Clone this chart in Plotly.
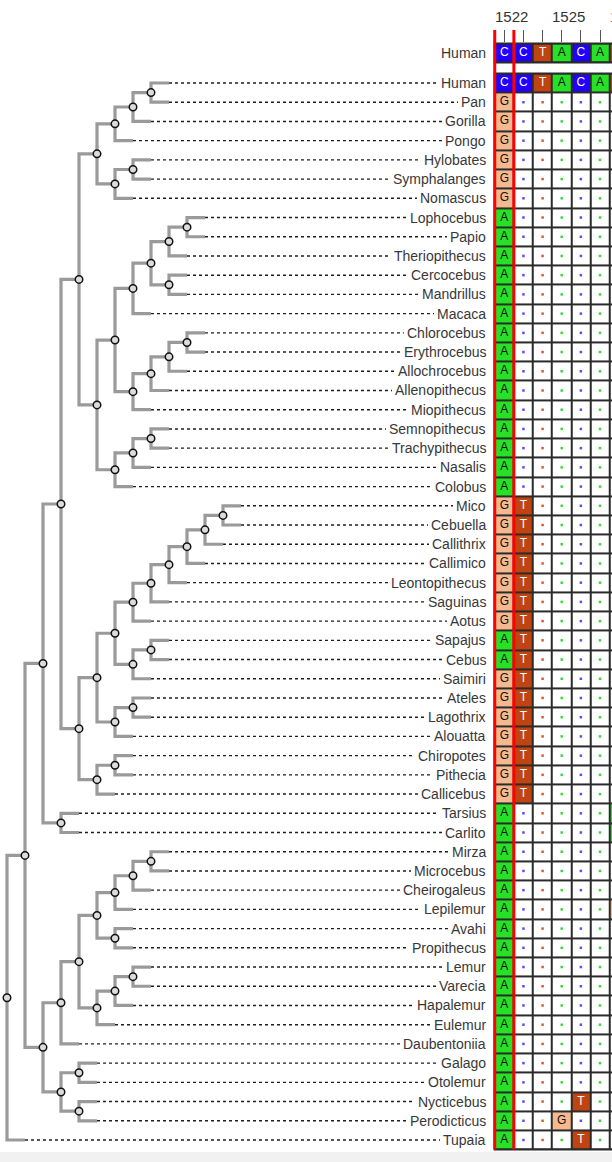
import plotly.graph_objects as go

# cladogram of the primates (plus Tupaia as outgroup), newick, top to bottom
hominoidea = "((((Human,Pan),Gorilla),Pongo),((Hylobates,Symphalanges),Nomascus))"
papionini = "((((Lophocebus,Papio),Theriopithecus),(Cercocebus,Mandrillus)),Macaca)"
cercopithecini = "((((Chlorocebus,Erythrocebus),Allochrocebus),Allenopithecus),Miopithecus)"
colobinae = "(((Semnopithecus,Trachypithecus),Nasalis),Colobus)"
callitrichidae = "((((((Mico,Cebuella),Callithrix),Callimico),Leontopithecus),Saguinas),Aotus)"
cebidae = "((Sapajus,Cebus),Saimiri)"
atelidae = "((Ateles,Lagothrix),Alouatta)"
pitheciidae = "((Chiropotes,Pithecia),Callicebus)"
tarsiidae = "(Tarsius,Carlito)"
lemuriformes = ("((((((Mirza,Microcebus),Cheirogaleus),Lepilemur),(Avahi,Propithecus)),"
                "(((Lemur,Varecia),Hapalemur),Eulemur)),Daubentoniia)")
lorisiformes = "((Galago,Otolemur),(Nycticebus,Perodicticus))"

catarrhini = f"({hominoidea},(({papionini},{cercopithecini}),{colobinae}))"
platyrrhini = f"((({callitrichidae},{cebidae}),{atelidae}),{pitheciidae})"
haplorrhini = f"(({catarrhini},{platyrrhini}),{tarsiidae})"
strepsirrhini = f"({lemuriformes},{lorisiformes})"
newick = f"(({haplorrhini},{strepsirrhini}),Tupaia)"

# alignment columns, human reference and per-species rows ('.' = same as human)
columns = [1522, 1523, 1524, 1525, 1526, 1527, 1528]
label_cols = [1522, 1525, 1528]
reference_name = "Human"
reference = "CCTACAT"
sequences = (
    ["CCTACAT"]
    + ["G......"] * 6      # Pan .. Nomascus
    + ["A......"] * 15     # Lophocebus .. Colobus
    + ["GT....."] * 7      # Mico .. Aotus
    + ["AT....."] * 2      # Sapajus, Cebus
    + ["GT....."] * 7      # Saimiri .. Callicebus
    + ["A.....A"] * 2      # Tarsius, Carlito
    + ["A......"] * 3      # Mirza, Microcebus, Cheirogaleus
    + ["A.....G"]          # Lepilemur
    + ["A......"] * 9      # Avahi .. Otolemur
    + ["A...T.."]          # Nycticebus
    + ["A..G..."]          # Perodicticus
    + ["A...T.."]          # Tupaia
)

base_fill = {"A": "#27e127", "C": "#2100ff", "G": "#f4b98e", "T": "#bf4412"}
base_text = {"A": "#111111", "C": "white", "G": "#111111", "T": "white"}
dot_color = {"A": "#3ad83a", "C": "#5a4cff", "G": "#e8a070", "T": "#e0582a"}
code = {".": 0, "A": 1, "C": 2, "G": 3, "T": 4}

FONT = "Liberation Sans, Arial, sans-serif"
W, H = 612, 1162
ROW_PX = (1140 - 83) / 55
TOP_PX = 30
y_top = -(83 - TOP_PX) / ROW_PX
y_bot = y_top + (H - TOP_PX) / ROW_PX
HEADER_ROW = -(83 - 53) / ROW_PX
DEPTH_PX = 18
ROOT_PX = 7
LABEL_X = (488.5 - ROOT_PX) / DEPTH_PX
COL_PX = 19.14
COL0_PX = 504.3


def parse(s, i=0):
    if s[i] == "(":
        kids = []
        i += 1
        while True:
            node, i = parse(s, i)
            kids.append(node)
            if s[i] == ",":
                i += 1
            else:
                return kids, i + 1
    j = i
    while s[j] not in ",()":
        j += 1
    return s[i:j], j


tree, _ = parse(newick)

leaves = []
line_x, line_y = [], []
node_x, node_y = [], []


def place(node, depth):
    if isinstance(node, str):
        leaves.append(node)
        return depth, len(leaves) - 1
    pos = [place(k, depth + 1) for k in node]
    (x1, y1), (x2, y2) = pos[0], pos[-1]
    line_x.extend([x1, depth, depth, x2, None])
    line_y.extend([y1, y1, y2, y2, None])
    for xm, ym in pos[1:-1]:
        line_x.extend([depth, xm, None])
        line_y.extend([ym, ym, None])
    y = (y1 + y2) / 2
    node_x.append(depth)
    node_y.append(y)
    return depth, y


place(tree, 0)
leaf_depth = {}


def leaf_depths(node, depth):
    if isinstance(node, str):
        leaf_depth[node] = depth
    else:
        for k in node:
            leaf_depths(k, depth + 1)


leaf_depths(tree, 0)

dot_x, dot_y = [], []
for i, name in enumerate(leaves):
    dot_x.extend([leaf_depth[name], LABEL_X, None])
    dot_y.extend([i, i, None])

fig = go.Figure()

# tree
fig.add_trace(go.Scatter(x=dot_x, y=dot_y, mode="lines",
                         line=dict(color="#1e1e1e", width=1.4, dash="3px,3px"),
                         hoverinfo="skip"))
fig.add_trace(go.Scatter(x=line_x, y=line_y, mode="lines",
                         line=dict(color="#9a9a9a", width=3.2),
                         hoverinfo="skip"))
fig.add_trace(go.Scatter(x=node_x, y=node_y, mode="markers", cliponaxis=False,
                         marker=dict(size=7.5, color="#dcdcdc",
                                     line=dict(color="#111111", width=1.5)),
                         hoverinfo="skip"))

# alignment
rows = list(range(len(leaves)))
z = [[code[ch] for ch in seq] for seq in sequences]
z_head = [[code[ch] for ch in reference]]
cs = [[0.0, "white"], [0.2, "white"],
      [0.2, base_fill["A"]], [0.4, base_fill["A"]],
      [0.4, base_fill["C"]], [0.6, base_fill["C"]],
      [0.6, base_fill["G"]], [0.8, base_fill["G"]],
      [0.8, base_fill["T"]], [1.0, base_fill["T"]]]
dark = [[0, "#2b2b2b"], [1, "#2b2b2b"]]

for yy, zz in ((rows, z), ([HEADER_ROW], z_head)):
    fig.add_trace(go.Heatmap(x=columns, y=yy, z=[[0] * len(columns) for _ in zz],
                             colorscale=dark, showscale=False, hoverinfo="skip",
                             xaxis="x2", yaxis="y"))
    fig.add_trace(go.Heatmap(x=columns, y=yy, z=zz, colorscale=cs, zmin=-0.5, zmax=4.5,
                             xgap=2, ygap=2, showscale=False, hoverinfo="skip",
                             xaxis="x2", yaxis="y"))

txt_x, txt_y, txt, txt_c = [], [], [], []
dx, dy, dc = [], [], []
for r, seq in [(HEADER_ROW, reference)] + list(zip(rows, sequences)):
    for c, ch, ref in zip(columns, seq, reference):
        if ch == ".":
            dx.append(c)
            dy.append(r)
            dc.append(dot_color[ref])
        else:
            txt_x.append(c)
            txt_y.append(r)
            txt.append(ch)
            txt_c.append(base_text[ch])

fig.add_trace(go.Scatter(x=dx, y=dy, mode="markers", xaxis="x2", yaxis="y",
                         marker=dict(symbol="square", size=2.5, color=dc),
                         hoverinfo="skip"))
fig.add_trace(go.Scatter(x=txt_x, y=txt_y, mode="text", text=txt, xaxis="x2", yaxis="y",
                         textfont=dict(family=FONT, size=12, color=txt_c),
                         hoverinfo="skip"))

shapes = []
for r0, r1 in ((-0.5, len(leaves) - 0.5), (HEADER_ROW - 0.5, HEADER_ROW + 0.5)):
    shapes.append(dict(type="rect", xref="x2", yref="y",
                       x0=columns[0] - 0.5, x1=columns[-1] + 0.5, y0=r0, y1=r1,
                       line=dict(color="#2b2b2b", width=2)))
for xv in (label_cols[0] - 0.5, label_cols[0] + 0.5):
    shapes.append(dict(type="line", xref="x2", yref="y", x0=xv, x1=xv,
                       y0=y_top, y1=len(leaves) - 0.5,
                       line=dict(color="#ff0000", width=3)))
# browser scrollbar strip at the bottom
shapes.append(dict(type="rect", xref="paper", yref="paper", x0=0, x1=1, y0=0, y1=10 / H,
                   fillcolor="#f1f1f1", line=dict(width=0)))

annotations = []
for i, name in enumerate(leaves):
    annotations.append(dict(x=LABEL_X, y=i, xref="x", yref="y", text=name,
                            showarrow=False, xanchor="right", bgcolor="white",
                            borderpad=3, borderwidth=0,
                            font=dict(family=FONT, size=14, color="#383838")))
annotations.append(dict(x=LABEL_X, y=HEADER_ROW, xref="x", yref="y", text=reference_name,
                        showarrow=False, xanchor="right", borderpad=3, borderwidth=0,
                        font=dict(family=FONT, size=14, color="#383838")))
for c in label_cols:
    annotations.append(dict(x=c - 0.5, y=1 - 16 / H, xref="x2", yref="paper", text=str(c),
                            showarrow=False, xanchor="left", yanchor="middle",
                            borderpad=0, borderwidth=0,
                            font=dict(family=FONT, size=15, color="#333333")))

fig.update_layout(
    width=W, height=H,
    margin=dict(l=0, r=0, t=0, b=0),
    paper_bgcolor="white", plot_bgcolor="rgba(0,0,0,0)",
    showlegend=False,
    xaxis=dict(visible=False, domain=[0, 1], anchor="y",
               range=[-ROOT_PX / DEPTH_PX, (W - ROOT_PX) / DEPTH_PX]),
    xaxis2=dict(overlaying="x", anchor="y", side="top",
                range=[columns[0] - COL0_PX / COL_PX, columns[0] + (W - COL0_PX) / COL_PX],
                tickvals=columns, showticklabels=False, ticks="inside", ticklen=12,
                tickwidth=1.2, tickcolor="#555555",
                showgrid=False, zeroline=False, showline=False),
    yaxis=dict(visible=False, domain=[0, (H - TOP_PX) / H], range=[y_bot, y_top]),
    shapes=shapes,
    annotations=annotations,
)

# the page body has a default 8px margin; drop it so the figure starts at the corner
fig.write_html("out.html", config={"displayModeBar": False},
               post_script="document.body.style.margin = '0';")
